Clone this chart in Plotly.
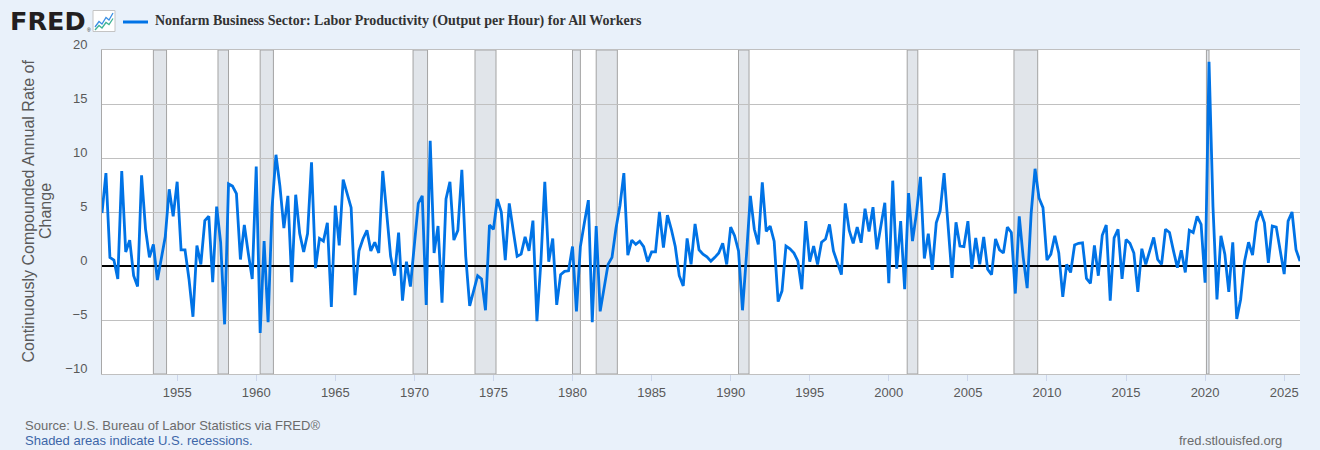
import pandas as pd
import plotly.graph_objects as go

# Quarterly values (percent, continuously compounded annual rate), 1950Q2 onward
vals_1950s = [4.9, 8.6, 0.8, 0.55, -1.2, 8.8, 1.3, 2.4, -0.9, -1.9, 8.4, 3.4, 0.8, 2.0, -1.3, 0.9,
              2.7, 7.1, 4.6, 7.8, 1.5, 1.5, -1.2, -4.7, 1.9, 0.15, 4.2, 4.6, -1.5, 5.5, 2.2, -5.4,
              7.6, 7.4, 6.7, 0.6, 3.8, 1.2, -1.2]
vals_1960s = [9.2, -6.2, 2.3, -5.2, 5.4, 10.3, 7.4, 3.5, 6.5, -1.5, 6.6, 3.0, 1.3, 3.0, 9.6, -0.2,
              2.55, 2.3, 4.0, -3.8, 5.6, 1.9, 8.0, 6.8, 5.4, -2.7, 1.4, 2.5, 3.3, 1.4, 2.2, 1.2,
              8.8, 4.9, 0.9, -0.9, 3.1, -3.2, 0.4, -1.9]
vals_1970s = [2.0, 5.8, 6.5, -3.6, 11.6, 1.2, 3.7, -3.4, 6.2, 7.8, 2.4, 3.3, 8.9, 0.9, -3.7, -2.3,
              -0.9, -1.2, -4.1, 3.8, 3.4, 6.2, 5.0, 0.55, 5.8, 3.3, 0.9, 1.1, 2.7, 1.4, 4.2, -5.1,
              0.4, 7.8, 0.4, 2.55, -3.6, -0.8, -0.5, -0.45]
vals_1980s = [1.8, -4.2, 1.8, 4.0, 6.1, -5.2, 3.7, -4.2, -2.0, 0.15, 0.8, 3.5, 5.6, 8.6, 1.0, 2.4,
              2.0, 2.3, 1.8, 0.4, 1.3, 1.3, 5.0, 1.7, 4.7, 3.4, 1.8, -0.9, -1.85, 2.55, 0.15, 3.9,
              1.5, 1.1, 0.85, 0.45, 0.8, 1.2, 2.1, 0.15]
vals_1990s = [3.6, 2.8, 1.4, -4.1, 1.0, 6.5, 3.4, 2.0, 7.75, 3.2, 3.7, 2.3, -3.3, -2.3, 1.85, 1.6,
              1.2, 0.45, -2.15, 4.15, 0.4, 1.85, 0.15, 2.2, 2.5, 3.85, 1.4, 0.4, -0.8, 5.8, 3.3, 2.1,
              3.6, 2.15, 5.3, 3.2, 5.45, 1.55, 3.7, 5.85]
vals_2000s = [-1.6, 7.9, -0.25, 4.15, -2.15, 6.75, 2.3, 4.9, 8.25, 0.7, 3.0, -0.35, 4.0, 5.1, 8.6, 4.0,
              -1.1, 4.05, 1.85, 1.8, 4.15, -0.25, 2.6, 0.15, 2.7, -0.3, -0.8, 2.5, 1.5, 1.2, 3.6, 3.1,
              -2.55, 4.6, 0.8, -2.05, 4.9, 9.0, 6.3, 5.4]
vals_2010s = [0.55, 1.1, 2.8, 1.2, -2.85, 0.15, -0.6, 1.95, 2.1, 2.15, -1.15, -1.6, 1.9, -0.9, 2.85, 3.8,
              -3.2, 2.6, 3.4, -1.2, 2.45, 2.1, 1.2, -2.4, 1.6, 0.15, 1.5, 2.65, 0.6, 0.15, 3.4, 3.1,
              1.4, -0.15, 1.45, -0.6, 3.3, 3.1, 4.6, 3.85]
vals_2020s = [-1.55, 18.9, 5.5, -3.1, 2.8, 1.1, -2.4, 2.2, -4.9, -3.1, 0.45, 2.2, 1.0, 4.05, 5.1, 4.0,
              0.3, 3.7, 3.6, 1.5, -0.75, 4.15, 5.0, 1.5, 0.45]

values = vals_1950s + vals_1960s + vals_1970s + vals_1980s + vals_1990s + vals_2000s + vals_2010s + vals_2020s
first_date = "1950-04-01"
dates = pd.date_range(first_date, periods=len(values), freq="QS")

recession_starts = ["1953-07-01", "1957-08-01", "1960-04-01", "1969-12-01", "1973-11-01", "1980-01-01",
                    "1981-07-01", "1990-07-01", "2001-03-01", "2007-12-01", "2020-02-01"]
recession_ends = ["1954-05-01", "1958-04-01", "1961-02-01", "1970-11-01", "1975-03-01", "1980-07-01",
                  "1982-11-01", "1991-03-01", "2001-11-01", "2009-06-01", "2020-04-01"]

series_name = "Nonfarm Business Sector: Labor Productivity (Output per Hour) for All Workers"
y_title_lines = ["Continuously Compounded Annual Rate of", "Change"]
source_text = "Source: U.S. Bureau of Labor Statistics via FRED®"
note_text = "Shaded areas indicate U.S. recessions."
site_text = "fred.stlouisfed.org"

LINE = "#0073e6"
BG = "#e9f1fa"
SANS = "Liberation Sans, Arial, sans-serif"
SERIF = "Liberation Serif, Times New Roman, serif"

W, H = 1320, 450
ML, MR, MT, MB = 102, 20, 50, 76
PW, PH = W - ML - MR, H - MT - MB


def px(xp):
    return (xp - ML) / PW


def py(yp):
    return (H - MB - yp) / PH


fig = go.Figure()
fig.add_trace(go.Scatter(x=dates, y=values, mode="lines", name=series_name,
                         line=dict(color=LINE, width=2.8), hoverinfo="x+y"))

shapes = []
for s, e in zip(recession_starts, recession_ends):
    shapes.append(dict(type="rect", xref="x", yref="paper", x0=s, x1=e, y0=0, y1=1,
                       fillcolor="#e1e5ea", line=dict(color="#a3a3a3", width=1), layer="below"))

# legend sample line
shapes.append(dict(type="line", xref="paper", yref="paper", x0=px(123), x1=px(148), y0=py(22), y1=py(22),
                   line=dict(color=LINE, width=3)))
# FRED graph icon
shapes.append(dict(type="rect", xref="paper", yref="paper", x0=px(93), x1=px(115), y0=py(31.5), y1=py(10.5),
                   fillcolor="white", line=dict(color="#c4c4c4", width=1)))
blue_pts = [(95, 27), (99, 21.5), (102, 24), (106, 17.5), (109, 20), (113, 13)]
green_pts = [(95, 30), (99, 25.5), (102, 28), (106, 22.5), (109, 24.5), (113, 18.5)]
for pts, col in ((blue_pts, "#3b8fe3"), (green_pts, "#3fb394")):
    path = "M " + " L ".join(f"{px(a):.5f},{py(b):.5f}" for a, b in pts)
    shapes.append(dict(type="path", xref="paper", yref="paper", path=path, line=dict(color=col, width=1.3)))


def note(text, x, y, xanchor, size, color, family=SANS, weight=None, angle=0):
    f = dict(family=family, size=size, color=color)
    if weight:
        f["weight"] = weight
    return dict(text=text, xref="paper", yref="paper", x=px(x), y=py(y), xanchor=xanchor,
                yanchor="middle", showarrow=False, textangle=angle, font=f)


annotations = [
    note("FRED", 8, 21.5, "left", 25.5, "#231f20", family="DejaVu Sans, Liberation Sans, sans-serif", weight=700),
    note("®", 85, 30, "left", 5, "#231f20"),
    note(series_name, 152.5, 21.5, "left", 14, "#333333", family=SERIF, weight=700),
    note(y_title_lines[0], 27.5, 211, "center", 16, "#595959", angle=-90),
    note(y_title_lines[1], 45, 211, "center", 16, "#595959", angle=-90),
    note(source_text, 23, 425, "left", 13, "#6b6b6b"),
    note(note_text, 23, 440.5, "left", 13, "#3d66a8"),
    note(site_text, 1284, 440.5, "right", 13, "#6b6b6b"),
]

fig.update_layout(
    width=W, height=H, margin=dict(l=ML, r=MR, t=MT, b=MB),
    paper_bgcolor=BG, plot_bgcolor="white", showlegend=False,
    shapes=shapes, annotations=annotations,
    font=dict(family=SANS, size=13, color="#595959"),
    xaxis=dict(type="date", range=[first_date, "2026-01-01"], tick0="1955-01-01", dtick="M60",
               tickformat="%Y", showgrid=False, ticks="outside", ticklen=6, tickcolor="#ccd6eb",
               showline=True, mirror=True, linecolor="#c0c0c0", linewidth=1,
               tickfont=dict(family=SANS, size=13, color="#595959")),
    yaxis=dict(range=[-10, 20], dtick=5, tick0=0, showgrid=True, gridcolor="#c0c0c0", gridwidth=1,
               zeroline=True, zerolinecolor="black", zerolinewidth=2,
               showline=True, linecolor="#a8a8a8", linewidth=1, ticks="",
               ticklabelstandoff=11, ticklabelshift=-6,
               tickfont=dict(family=SANS, size=13, color="#595959")),
)

fig.write_html("out.html", config={"displayModeBar": False},
               post_script="document.body.style.margin='0';document.body.style.overflow='hidden';")
